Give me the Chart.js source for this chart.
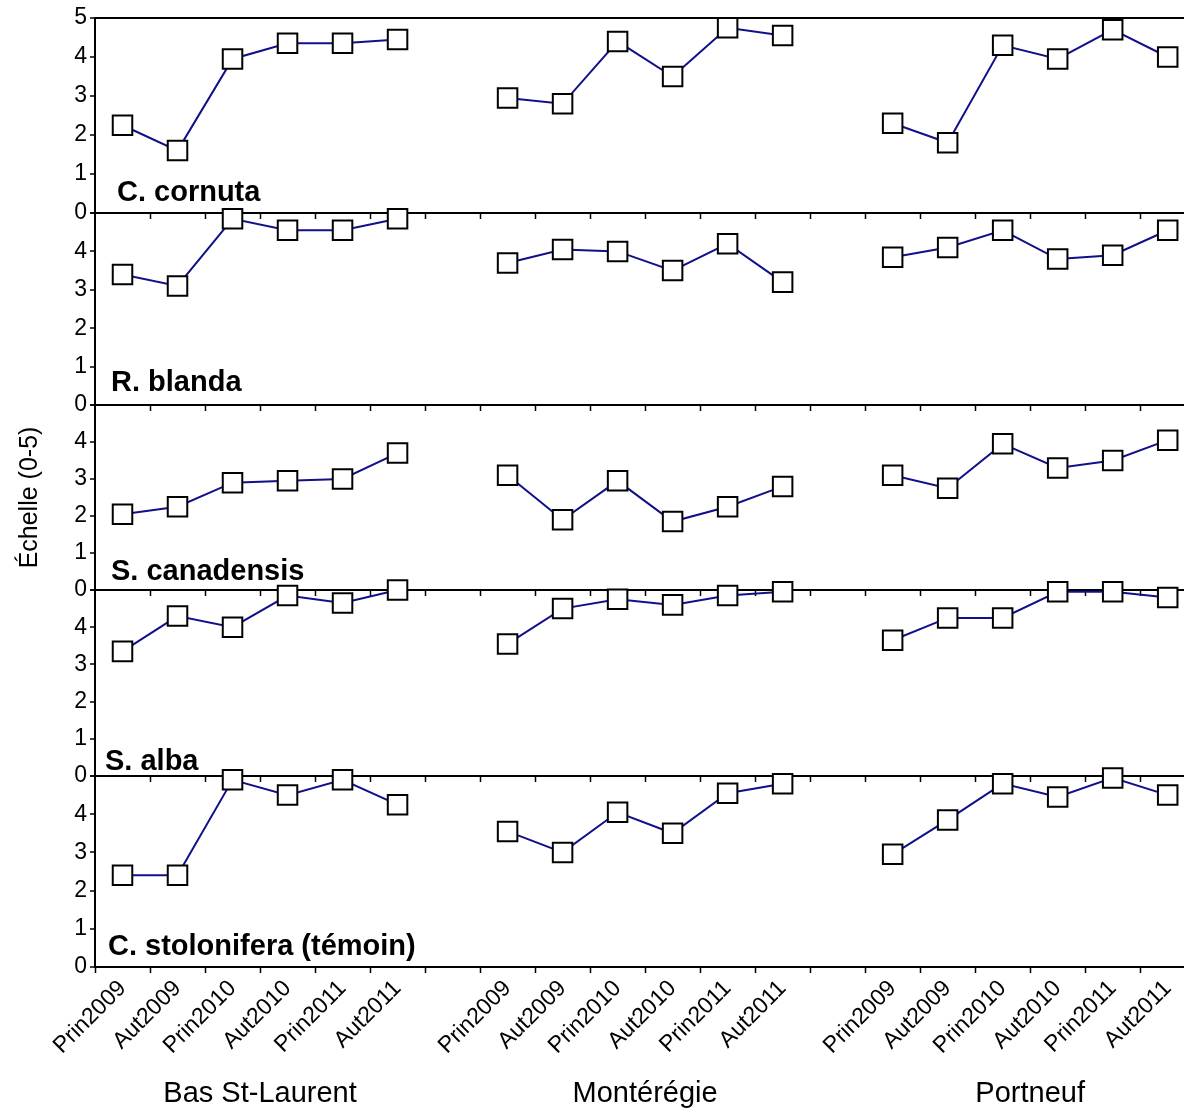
<!DOCTYPE html>
<html>
<head>
<meta charset="utf-8">
<script src="https://cdn.jsdelivr.net/npm/chart.js@4"></script>
<style>
  html, body { margin: 0; padding: 0; background: #fff; overflow: hidden; width: 1184px; height: 1110px; }
  #wrap { position: relative; width: 1200px; height: 1110px; }
</style>
</head>
<body>
<div id="wrap"><canvas id="c"></canvas></div>
<script>
// ---- data ----
const CATEGORIES = ['Prin2009', 'Aut2009', 'Prin2010', 'Aut2010', 'Prin2011', 'Aut2011'];
const SITES = ['Bas St-Laurent', 'Montérégie', 'Portneuf'];
const SPECIES = ['C. cornuta', 'R. blanda', 'S. canadensis', 'S. alba', 'C. stolonifera (témoin)'];
const Y_TICKS = [0, 1, 2, 3, 4, 5];
const Y_TITLE = 'Échelle (0-5)';

// values per species: Bas St-Laurent (6), Montérégie (6), Portneuf (6)
const C_CORNUTA     = [2.25, 1.6, 3.95, 4.35, 4.35, 4.45,  2.95, 2.8, 4.4, 3.5, 4.75, 4.55,  2.3, 1.8, 4.3, 3.95, 4.7, 4.0];
const R_BLANDA      = [3.4, 3.1, 4.85, 4.55, 4.55, 4.85,   3.7, 4.05, 4.0, 3.5, 4.2, 3.2,    3.85, 4.1, 4.55, 3.8, 3.9, 4.55];
const S_CANADENSIS  = [2.05, 2.25, 2.9, 2.95, 3.0, 3.7,    3.1, 1.9, 2.95, 1.85, 2.25, 2.8,  3.1, 2.75, 3.95, 3.3, 3.5, 4.05];
const S_ALBA        = [3.35, 4.3, 4.0, 4.85, 4.65, 5.0,    3.55, 4.5, 4.75, 4.6, 4.85, 4.95, 3.65, 4.25, 4.25, 4.95, 4.95, 4.8];
const C_STOLONIFERA = [2.4, 2.4, 4.9, 4.5, 4.9, 4.25,      3.55, 3.0, 4.05, 3.5, 4.55, 4.8,  2.95, 3.85, 4.8, 4.45, 4.95, 4.5];
const SERIES = [C_CORNUTA, R_BLANDA, S_CANADENSIS, S_ALBA, C_STOLONIFERA];

// x positions: 6 categories per site, one empty slot between sites
const X_LABELS = [];
SITES.forEach((s, g) => {
  CATEGORIES.forEach(c => X_LABELS.push(c));
  if (g < SITES.length - 1) X_LABELS.push('');
});
const AXIS_IDS = ['y1', 'y2', 'y3', 'y4', 'y5'];
const FONT = '"Liberation Sans", Arial, Helvetica, sans-serif';

function buildPoints(values) {
  const pts = [];
  SITES.forEach((s, g) => {
    CATEGORIES.forEach((c, k) => pts.push({ x: g * (CATEGORIES.length + 1) + k, y: values[g * CATEGORIES.length + k] }));
    if (g < SITES.length - 1) pts.push({ x: g * (CATEGORIES.length + 1) + CATEGORIES.length, y: null });
  });
  return pts;
}

const datasets = SERIES.map((vals, p) => ({
  label: SPECIES[p],
  data: buildPoints(vals),
  yAxisID: AXIS_IDS[p],
  borderColor: '#10108a',
  borderWidth: 2,
  pointStyle: 'rect',
  pointRadius: 13.8,
  pointBackgroundColor: '#ffffff',
  pointBorderColor: '#000000',
  pointBorderWidth: 2,
  spanGaps: false,
  tension: 0,
  clip: false
}));

const STACK_WEIGHTS = [195, 192, 185, 186, 191];
const LABEL_DX = [22, 16, 16, 10, 13];
const LABEL_DY = [12, 14, 10, 6, 12];

function yAxis(p) {
  return {
    type: 'linear',
    position: 'left',
    stack: 'panels',
    stackWeight: STACK_WEIGHTS[p],
    min: 0,
    max: 5,
    afterBuildTicks: s => { s.ticks = Y_TICKS.map(v => ({ value: v })); },
    afterFit: s => { s.width = 95; },
    ticks: {
      autoSkip: false,
      color: '#000',
      padding: 3,
      font: { family: FONT, size: 23 },
      callback: v => (v === 5 && p !== 0) ? '' : String(v)
    },
    grid: {
      drawOnChartArea: true,
      color: ctx => (ctx.tick && (ctx.tick.value === 0 || (p === 0 && ctx.tick.value === 5))) ? '#000' : 'rgba(0,0,0,0)',
      lineWidth: 2,
      tickColor: '#000',
      tickWidth: 1.5,
      tickLength: 5
    },
    border: { display: true, color: '#000', width: 2 },
    title: p === 2 ? {
      display: true,
      text: Y_TITLE,
      color: '#000',
      font: { family: FONT, size: 25 },
      padding: { top: 15, bottom: 0 }
    } : { display: false }
  };
}

const scales = {
  x: {
    type: 'linear',
    position: 'bottom',
    min: -0.5,
    max: 19.3,
    afterBuildTicks: s => { s.ticks = X_LABELS.map((l, i) => ({ value: i })); },
    afterFit: s => { s.height = 143; },
    ticks: {
      autoSkip: false,
      maxRotation: 45,
      minRotation: 45,
      color: '#000',
      padding: 2,
      font: { family: FONT, size: 23 },
      callback: v => X_LABELS[v] !== undefined ? X_LABELS[v] : ''
    },
    grid: {
      offset: true,
      drawOnChartArea: false,
      color: '#000',
      tickColor: '#000',
      tickWidth: 1.5,
      tickLength: 6
    },
    border: { display: true, color: '#000', width: 2 }
  }
};
// define bottom panel first so the top panel ends up on top of the stack
for (let p = AXIS_IDS.length - 1; p >= 0; p--) scales[AXIS_IDS[p]] = yAxis(p);

const panelDecor = {
  id: 'panelDecor',
  beforeDatasetsDraw(chart) {
    const ctx = chart.ctx;
    const xs = chart.scales.x;
    const area = chart.chartArea;
    ctx.save();
    AXIS_IDS.forEach((id, p) => {
      const ys = chart.scales[id];
      const y0 = ys.getPixelForValue(0);
      ctx.fillStyle = '#000';
      ctx.font = 'bold 29px ' + FONT;
      ctx.textAlign = 'left';
      ctx.textBaseline = 'alphabetic';
      ctx.fillText(SPECIES[p], area.left + LABEL_DX[p], y0 - LABEL_DY[p]);
      if (p < AXIS_IDS.length - 1) {
        ctx.strokeStyle = '#000';
        ctx.lineWidth = 1.5;
        for (let i = 1; i < X_LABELS.length + 1; i++) {
          const px = Math.round(xs.getPixelForValue(i - 0.5)) + 0.5;
          if (px > area.right) break;
          ctx.beginPath();
          ctx.moveTo(px, y0);
          ctx.lineTo(px, y0 + 6);
          ctx.stroke();
        }
      }
    });
    ctx.font = '29px ' + FONT;
    ctx.textAlign = 'center';
    ctx.textBaseline = 'alphabetic';
    ctx.fillStyle = '#000';
    SITES.forEach((s, g) => {
      const cx = xs.getPixelForValue(g * (CATEGORIES.length + 1) + (CATEGORIES.length - 1) / 2);
      ctx.fillText(s, cx, chart.height - 8);
    });
    ctx.restore();
  }
};

new Chart(document.getElementById('c'), {
  type: 'line',
  data: { datasets },
  options: {
    responsive: true,
    maintainAspectRatio: false,
    animation: false,
    events: [],
    layout: { padding: { top: 18, right: 0, bottom: 0, left: 0 } },
    plugins: { legend: { display: false }, tooltip: { enabled: false } },
    scales
  },
  plugins: [panelDecor]
});
</script>
</body>
</html>
